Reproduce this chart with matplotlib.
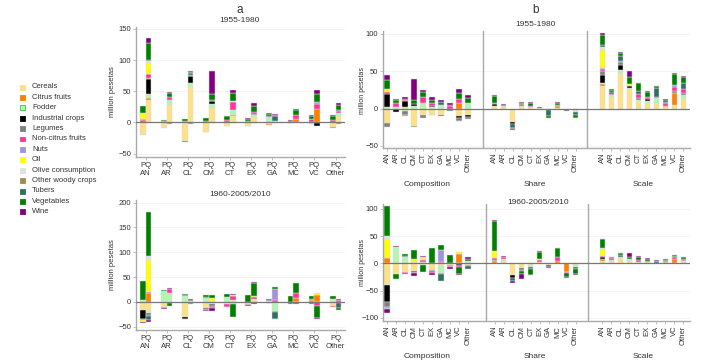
import matplotlib.pyplot as plt
import matplotlib.transforms as mtransforms
from matplotlib.patches import Rectangle

plt.rcParams['font.family'] = ['Liberation Sans', 'DejaVu Sans']

# categories (stacking order, bottom to top)
cat_names = ["Cereals", "Citrus fruits", "Fodder", "Industrial crops", "Legumes",
             "Non-citrus fruits", "Nuts", "Oil", "Olive consumption",
             "Other woody crops", "Tubers", "Vegetables", "Wine"]
codes = ["cer", "cit", "fod", "ind", "leg", "nci", "nut", "oil", "oli", "owc", "tub", "veg", "win"]
colors = ["#FFE084", "#FF7F00", "#B3F5B3", "#000000", "#7F7F7F", "#FF3399", "#9F94DC",
          "#FFFF00", "#E0E0E0", "#A08C50", "#2F7066", "#008000", "#800080"]
regions = ["AN", "AR", "CL", "CM", "CT", "EX", "GA", "MC", "VC", "Other"]

# panel a, 1955-1980 (P and Q bars)
a55_P = {
    "AN": dict(cer=-19, fod=-1.5, ind=1.5, nci=2.5, nut=1.5, oil=9, oli=1, veg=11),
    "AR": dict(cer=-8, fod=-1, ind=1.5, leg=1, veg=1.5),
    "CL": dict(cer=-29.5, tub=-1, leg=1, ind=1, veg=3),
    "CM": dict(cer=-15, fod=-0.5, ind=1, tub=1, veg=5),
    "CT": dict(cer=-5, owc=-1, leg=1, nci=3, veg=6, win=1),
    "EX": dict(cer=-5, fod=-0.5, ind=1, nci=2, veg=3, win=1),
    "GA": dict(cer=-3, cit=-1, fod=8, tub=3, veg=3, win=0.5),
    "MC": dict(cer=-0.5, nci=1, veg=2, win=1),
    "VC": dict(cer=-2, fod=-1, nci=5, nut=1, veg=5, win=1),
    "Other": dict(cer=-8, owc=-1, fod=1, nci=3, veg=7, win=1),
}
a55_Q = {
    "AN": dict(cer=36, cit=4, fod=5, ind=25, leg=1, nci=6, nut=1, oil=17, oli=3, tub=1.5, veg=28, win=8, owc=-1.5),
    "AR": dict(cer=28, fod=8, nci=5, veg=6, win=2, owc=-2),
    "CL": dict(cer=57, fod=6, ind=11, leg=1, nci=1, tub=3, veg=2, win=2, owc=-3),
    "CM": dict(cer=24, fod=6, ind=4, leg=1, tub=1, veg=9, win=37, owc=-1),
    "CT": dict(cer=10, cit=2, fod=8, nci=13, oli=2, veg=12, win=5, owc=-1),
    "EX": dict(cer=8, fod=4, leg=1, nci=4, veg=9, win=5, owc=-1),
    "GA": dict(fod=3, tub=7, veg=2, win=1, cer=-1),
    "MC": dict(cer=1, cit=4, nci=7, veg=8, win=2),
    "VC": dict(cit=21, nci=9, nut=3, veg=13, win=6, ind=-4, cer=-1),
    "Other": dict(cer=10, fod=6, nci=2, tub=2, veg=8, win=4, owc=-2),
}
# panel a, 1980-2005/2010
a80_P = {
    "AN": dict(fod=3, veg=39, cer=-16, ind=-19, leg=-1, oil=-4, win=-2),
    "AR": dict(fod=22, veg=2, cer=-10, nci=-3, win=-1),
    "CL": dict(fod=12, tub=2, veg=2, cer=-30, ind=-4, win=-1),
    "CM": dict(fod=7, tub=2, veg=4, cer=-13, ind=-2, leg=-1, win=-2),
    "CT": dict(fod=10, veg=6, cer=-5, nci=-5, win=-1),
    "EX": dict(veg=14, cer=-5, owc=-1, win=-2),
    "GA": dict(fod=2, tub=2, veg=2, cer=-2, win=-1),
    "MC": dict(veg=11, cer=-2, nci=-1, win=-2),
    "VC": dict(cit=3, nci=2, veg=6, cer=-3, win=-2),
    "Other": dict(fod=3, oli=2, veg=7, cer=-8, nci=-2),
}
a80_Q = {
    "AN": dict(cit=17, nci=3, oil=65, oli=7, veg=90, cer=-18, fod=-4, ind=-2, leg=-4, tub=-8, win=-4),
    "AR": dict(fod=17, nci=9, win=2, tub=-3, veg=-6),
    "CL": dict(cer=2, ind=1, nut=1, win=2, leg=-2, tub=-3),
    "CM": dict(cer=2, oil=5, veg=7, fod=-5, ind=-2, leg=-3, tub=-3, win=-6),
    "CT": dict(cer=3, nci=9, oil=2, win=2, fod=-5, veg=-25),
    "EX": dict(cer=3, fod=2, nci=5, oil=2, veg=26, win=2, tub=-4),
    "GA": dict(nci=3, nut=22, veg=5, cer=-5, fod=-13, leg=-2, tub=-14, win=-1),
    "MC": dict(cit=8, nci=9, veg=21, fod=-2, win=-2),
    "VC": dict(cit=14, oil=3, nci=-8, veg=-25, win=-2),
    "Other": dict(nci=3, win=2, fod=-3, tub=-10, veg=-4),
}

# panel b, 1955-1980 (composition / share / scale)
b55_comp = {
    "AN": dict(fod=2, ind=17, nci=3, oil=4, veg=13, win=6, cer=-19, leg=-6),
    "AR": dict(fod=2, nci=5, veg=4, win=2, cer=-1, ind=-4),
    "CL": dict(fod=2, ind=8, nci=2, veg=1, win=2, cer=-3, leg=-6, owc=-1),
    "CM": dict(fod=3, ind=3, veg=6, win=28, cer=-23, owc=-2),
    "CT": dict(fod=8, nci=8, veg=6, win=3, cer=-9, leg=-3),
    "EX": dict(fod=2, ind=2, nci=3, veg=5, win=3, cer=-8, owc=-1),
    "GA": dict(fod=5, tub=4, win=3, cer=-9, veg=-1),
    "MC": dict(nci=3, veg=2, win=2, leg=-2, tub=-1),
    "VC": dict(cit=7, nci=6, veg=8, win=5, cer=-10, ind=-3, leg=-3, tub=-1),
    "Other": dict(fod=7, veg=7, win=4, cer=-9, ind=-2, leg=-3),
}
b55_share = {
    "AN": dict(cer=4, ind=2, leg=2, veg=9, win=1),
    "AR": dict(cer=3, fod=1, veg=1, win=1),
    "CL": dict(cer=-18, ind=-3, tub=-5, veg=-1, win=-1),
    "CM": dict(cer=4, leg=2, veg=2, win=1),
    "CT": dict(cer=2, nci=2, veg=4, win=1),
    "EX": dict(cer=1, win=1),
    "GA": dict(cer=-2, tub=-8, veg=-2),
    "MC": dict(cer=1, cit=2, nci=2, veg=3, win=1),
    "VC": dict(nci=-2, win=-1),
    "Other": dict(cer=-3, fod=-2, tub=-3, veg=-4, win=-1),
}
b55_scale = {
    "AN": dict(cer=31, cit=2, fod=2, ind=10, leg=5, nci=3, nut=2, oil=24, oli=3, tub=3, veg=14, win=2),
    "AR": dict(cer=16, fod=2, nci=2, tub=2, veg=3, win=1),
    "CL": dict(cer=48, fod=4, ind=6, leg=4, nci=2, tub=6, veg=5, win=1),
    "CM": dict(cer=26, fod=2, ind=3, oil=2, veg=10, win=8),
    "CT": dict(cer=10, fod=2, leg=2, nci=6, tub=4, veg=10, win=1),
    "EX": dict(cer=8, fod=2, ind=3, nci=2, oil=1, veg=6, win=1),
    "GA": dict(cer=8, fod=6, nci=2, tub=12, veg=2, win=1),
    "MC": dict(cer=2, cit=2, nci=3, tub=2, veg=3, win=1),
    "VC": dict(cer=5, cit=16, leg=2, nci=6, nut=3, veg=14, win=2),
    "Other": dict(cer=13, fod=5, leg=3, nci=5, tub=8, veg=8, win=2),
}
# panel b, 1980-2005/2010
b80_comp = {
    "AN": dict(cit=10, oil=35, oli=5, veg=56, cer=-38, fod=-2, ind=-30, leg=-10, nci=-2, nut=-2, win=-6),
    "AR": dict(fod=30, oil=1, win=1, cer=-20, veg=-8),
    "CL": dict(fod=12, tub=2, veg=4, cer=-15, nci=-3, win=-2),
    "CM": dict(fod=2, oil=6, veg=16, cer=-13, ind=-2, leg=-2, win=-6),
    "CT": dict(cer=2, nci=5, oil=3, oli=1, win=3, fod=-2, veg=-13),
    "EX": dict(fod=1, veg=28, cer=-12, leg=-2, nci=-4, win=-4),
    "GA": dict(nci=3, nut=22, veg=9, cer=-5, fod=-12, leg=-2, tub=-13),
    "MC": dict(ind=1, veg=14, cer=-2, leg=-2, nci=-2, win=-4),
    "VC": dict(cit=18, oil=3, ind=-2, nci=-5, veg=-13, win=-2),
    "Other": dict(fod=3, oil=2, veg=3, win=3, cer=-2, leg=-2, tub=-6),
}
b80_share = {
    "AN": dict(cit=4, leg=2, nci=4, oil=12, veg=56, win=1),
    "AR": dict(cer=3, fod=5, nci=4, win=1),
    "CL": dict(cer=-22, ind=-5, tub=-6, win=-3),
    "CM": dict(cer=-9, ind=-2, leg=-2, veg=-6, win=-10),
    "CT": dict(cer=-3, fod=-3, tub=-5, veg=-10, win=-1),
    "EX": dict(cer=3, nci=3, oil=2, veg=13, win=2),
    "GA": dict(cer=-2, tub=-5, win=-1),
    "MC": dict(cit=5, nci=7, veg=16, win=1),
    "VC": dict(cit=-15, nci=-3, veg=-7, win=-1),
    "Other": dict(cer=-3, fod=-3, tub=-5, veg=-9, win=-1),
}
b80_scale = {
    "AN": dict(cer=4, cit=4, ind=3, nci=3, oil=13, oli=1, veg=16, win=1),
    "AR": dict(cer=2, fod=5, nci=3, veg=1, win=1),
    "CL": dict(cer=10, fod=2, tub=4, veg=3, win=1),
    "CM": dict(cer=5, fod=2, oil=2, veg=3, win=7),
    "CT": dict(cer=2, nci=5, veg=5, win=1),
    "EX": dict(cer=2, nci=2, veg=5, win=1),
    "GA": dict(cer=1, tub=3, veg=1, win=1),
    "MC": dict(cer=1, cit=2, nci=2, veg=2, win=1),
    "VC": dict(cer=1, cit=7, nci=3, veg=3, win=1),
    "Other": dict(cer=3, fod=2, nci=2, tub=2, veg=3, win=0.5),
}

W, H = 713, 364
fig = plt.figure(figsize=(W / 100, H / 100), dpi=100)
fs = 5.5
grey = "#AAAAAA"


def px_axes(l, t, r, b):
    return fig.add_axes([l / W, 1 - b / H, (r - l) / W, (b - t) / H])


def stack(ax, x, vals, width):
    pos, neg = 0, 0
    for code, col in zip(codes, colors):
        v = vals.get(code, 0)
        if v == 0:
            continue
        base = pos if v > 0 else neg
        ax.bar(x, v, width, bottom=base, color=col, edgecolor="#DDDDDD",
               linewidth=0.35, zorder=2)
        if v > 0:
            pos += v
        else:
            neg += v


def style(ax, ylim, yticks):
    ax.set_ylim(*ylim)
    ax.set_yticks(yticks)
    ax.tick_params(labelsize=fs, colors="#333333", length=2, width=0.5, pad=1.5)
    ax.tick_params(axis="both", color=grey)
    for s in ["top", "right"]:
        ax.spines[s].set_visible(False)
    for s in ["left", "bottom"]:
        ax.spines[s].set_color(grey)
        ax.spines[s].set_linewidth(1.0)
    for y in yticks:
        ax.axhline(y, color="#EEEEEE", lw=0.5, zorder=0)
    ax.axhline(0, color="#777777", lw=0.9, zorder=3)


# ---- panel a ----
def panel_a(ax, pdata, qdata, ylim, yticks):
    for i, r in enumerate(regions):
        stack(ax, i - 0.135, pdata[r], 0.27)
        stack(ax, i + 0.135, qdata[r], 0.27)
    ax.set_xlim(-0.45, 9.45)
    ax.set_xticks(range(len(regions)))
    ax.set_xticklabels(["PQ\n" + r for r in regions])
    style(ax, ylim, yticks)


ax1 = px_axes(136, 27, 345, 157)
panel_a(ax1, a55_P, a55_Q, (-55.3, 153), [-50, 0, 50, 100, 150])
ax2 = px_axes(136, 200, 345, 330)
panel_a(ax2, a80_P, a80_Q, (-56.7, 205.4), [-50, 0, 50, 100, 150, 200])

fig.text(240 / W, 1 - 10 / H, "a", ha="center", va="center", fontsize=8.5, color="#333333")
fig.text(240 / W, 1 - 20.5 / H, "1955-1980", ha="center", va="center", fontsize=6, color="#333333")
fig.text(240 / W, 1 - 195 / H, "1960-2005/2010", ha="center", va="center", fontsize=6, color="#333333")
fig.text(113 / W, 1 - 92 / H, "million pesetas", rotation=90, ha="center", va="center", fontsize=fs, color="#333333")
fig.text(113 / W, 1 - 265 / H, "million pesetas", rotation=90, ha="center", va="center", fontsize=fs, color="#333333")


# ---- panel b ----
groups = ["Composition", "Share", "Scale"]


def panel_b(ax, datasets, ylim, yticks, seps, label_y):
    xs, labels = [], []
    for g, data in enumerate(datasets):
        for i, r in enumerate(regions):
            x = g * 12 + i
            stack(ax, x, data[r], 0.6)
            xs.append(x)
            labels.append(r)
    ax.set_xlim(-0.45, 33.75)
    ax.set_xticks(xs)
    ax.set_xticklabels(labels, rotation=90)
    style(ax, ylim, yticks)
    for s in seps:
        ax.axvline(s, color=grey, lw=1.0, zorder=1)
    tr = mtransforms.blended_transform_factory(ax.transData, fig.transFigure)
    for g, name in enumerate(groups):
        ax.text(g * 12 + 4.5, 1 - label_y / H, name, transform=tr, ha="center",
                va="center", fontsize=fs + 0.5, color="#333333")


ax3 = px_axes(383, 31, 690, 148)
panel_b(ax3, [b55_comp, b55_share, b55_scale], (-52.7, 104), [-50, 0, 50, 100], [10.7, 22.3], 184)
ax4 = px_axes(383, 204, 690, 321)
panel_b(ax4, [b80_comp, b80_share, b80_scale], (-105.5, 109), [-100, -50, 0, 50, 100], [11.0, 22.4], 356)

fig.text(536 / W, 1 - 10 / H, "b", ha="center", va="center", fontsize=8.5, color="#333333")
fig.text(536 / W, 1 - 25 / H, "1955-1980", ha="center", va="center", fontsize=6, color="#333333")
fig.text(538 / W, 1 - 203 / H, "1960-2005/2010", ha="center", va="center", fontsize=6, color="#333333")
fig.text(363 / W, 1 - 90 / H, "million pesetas", rotation=90, ha="center", va="center", fontsize=5, color="#333333")
fig.text(363 / W, 1 - 262 / H, "million pesetas", rotation=90, ha="center", va="center", fontsize=5, color="#333333")

# ---- legend ----
for k, (name, col) in enumerate(zip(cat_names, colors)):
    y = 87 + k * 10.4
    ec = "#33CC33" if name == "Fodder" else col
    fig.add_artist(Rectangle(((22 - 2.5) / W, 1 - (y + 2.5) / H), 5 / W, 5 / H,
                             transform=fig.transFigure, facecolor=col, edgecolor=ec, lw=0.6))
    fig.text(32 / W, 1 - y / H, name, ha="left", va="center", fontsize=fs, color="#333333")

fig.savefig("out.png", dpi=100)
